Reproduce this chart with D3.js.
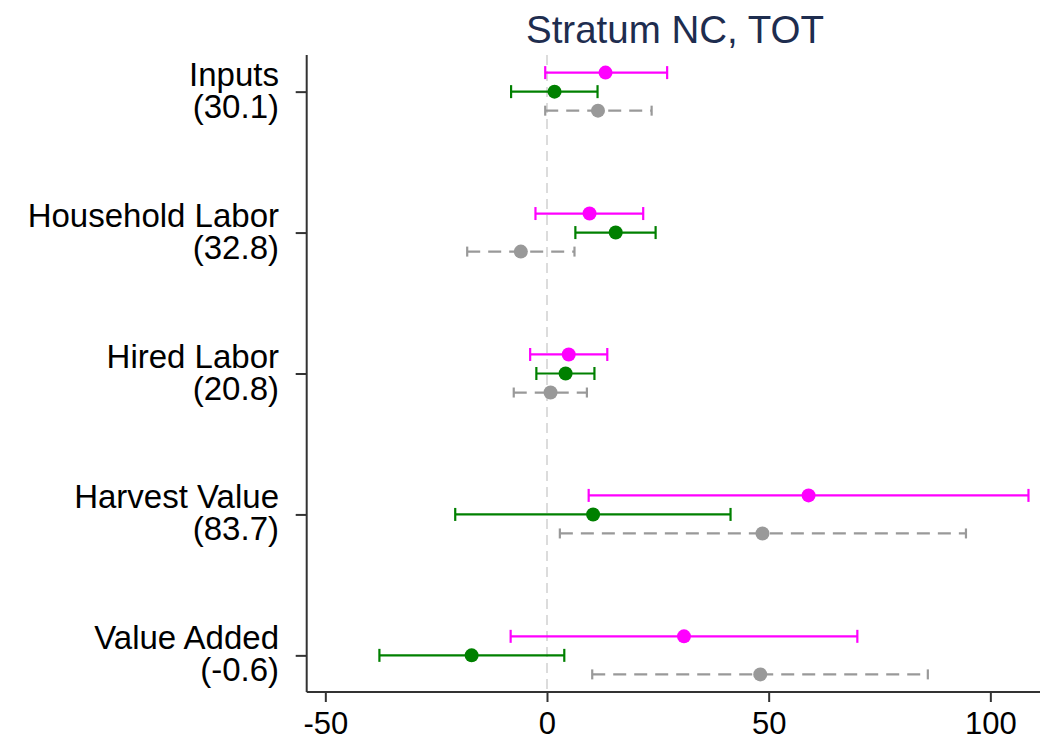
<!DOCTYPE html>
<html>
<head>
<meta charset="utf-8">
<script src="https://cdn.jsdelivr.net/npm/d3@7"></script>
<style>
  html, body { margin: 0; padding: 0; background: #fff; }
  svg { display: block; font-family: "Liberation Sans", Arial, sans-serif; }
</style>
</head>
<body>
<svg id="chart" width="1047" height="745"></svg>
<script>
// ---- Data ----
const categories = ["Inputs", "Household Labor", "Hired Labor", "Harvest Value", "Value Added"];
const categoryMeans = ["(30.1)", "(32.8)", "(20.8)", "(83.7)", "(-0.6)"];
const xTicks = [-50, 0, 50, 100];

const magentaEst = [13.2, 9.6, 4.9, 59.0, 30.9];
const magentaLo  = [-0.4, -2.6, -3.8, 9.4, -8.2];
const magentaHi  = [27.1, 21.7, 13.6, 108.6, 70.0];

const greenEst = [1.7, 15.5, 4.2, 10.4, -17.0];
const greenLo  = [-8.1, 6.4, -2.4, -20.7, -37.8];
const greenHi  = [11.4, 24.5, 10.7, 41.4, 3.9];

const grayEst = [11.5, -5.9, 0.8, 48.6, 48.1];
const grayLo  = [-0.4, -18.0, -7.5, 2.9, 10.2];
const grayHi  = [23.6, 6.2, 9.0, 94.5, 85.9];

const chartTitle = "Stratum NC, TOT";

// ---- Layout ----
const svg = d3.select("#chart");
const mLeft = 306.7, mRight = 1040, mTop = 55, mBottom = 692;

const x = d3.scaleLinear().domain([-54.2, 111.2]).range([mLeft, mRight]);
const y = d3.scaleLinear().domain([0.74, 5.26]).range([mTop, mBottom]);

const series = [
  { est: magentaEst, lo: magentaLo, hi: magentaHi, color: "#ff00ff", off: -0.135, dash: null, cap: 6.5 },
  { est: greenEst,   lo: greenLo,   hi: greenHi,   color: "#008000", off: 0,      dash: null, cap: 6.5 },
  { est: grayEst,    lo: grayLo,    hi: grayHi,    color: "#999999", off: 0.135,  dash: "13,8", cap: 5 }
];

// zero reference line
svg.append("line")
  .attr("x1", x(0)).attr("x2", x(0))
  .attr("y1", mTop).attr("y2", mBottom)
  .attr("stroke", "#dcdcdc").attr("stroke-width", 2)
  .attr("stroke-dasharray", "10,6");

// series
series.forEach(s => {
  const g = svg.append("g");
  categories.forEach((c, i) => {
    const yy = y(i + 1 + s.off);
    g.append("line")
      .attr("x1", x(s.lo[i])).attr("x2", x(s.hi[i]))
      .attr("y1", yy).attr("y2", yy)
      .attr("stroke", s.color).attr("stroke-width", 2.2)
      .attr("stroke-dasharray", s.dash);
    [s.lo[i], s.hi[i]].forEach(v => {
      g.append("line")
        .attr("x1", x(v)).attr("x2", x(v))
        .attr("y1", yy - s.cap).attr("y2", yy + s.cap)
        .attr("stroke", s.color).attr("stroke-width", 2.2);
    });
    g.append("circle")
      .attr("cx", x(s.est[i])).attr("cy", yy).attr("r", 7)
      .attr("fill", s.color);
  });
});

// x axis
const xAxis = d3.axisBottom(x).tickValues(xTicks).tickSize(10).tickPadding(10).tickFormat(d => String(d));
const gx = svg.append("g").attr("transform", `translate(0,${mBottom})`).call(xAxis);
gx.select(".domain").attr("d", `M${mLeft},0H${mRight}`).attr("stroke", "#333").attr("stroke-width", 2);
gx.selectAll(".tick line").attr("stroke", "#333").attr("stroke-width", 2);
gx.selectAll(".tick text").attr("font-size", 31).attr("fill", "#000")
  .attr("font-family", "Liberation Sans, Arial, sans-serif").attr("dy", "0.71em");

// y axis
const yAxis = d3.axisLeft(y).tickValues([1, 2, 3, 4, 5]).tickSize(11).tickFormat("");
const gy = svg.append("g").attr("transform", `translate(${mLeft},0)`).call(yAxis);
gy.select(".domain").attr("d", `M0,${mTop}V${mBottom}`).attr("stroke", "#333").attr("stroke-width", 2);
gy.selectAll(".tick line").attr("stroke", "#333").attr("stroke-width", 2);

// category labels
categories.forEach((c, i) => {
  const t = svg.append("text")
    .attr("x", 279).attr("y", y(i + 1))
    .attr("text-anchor", "end")
    .attr("font-size", 33).attr("fill", "#000");
  t.append("tspan").attr("x", 279).attr("dy", -6).text(c);
  t.append("tspan").attr("x", 279).attr("dy", 32).text(categoryMeans[i]);
});

// title
svg.append("text")
  .attr("x", 675).attr("y", 43)
  .attr("text-anchor", "middle")
  .attr("font-size", 38.5)
  .attr("fill", "#1e2d4f")
  .text(chartTitle);
</script>
</body>
</html>
